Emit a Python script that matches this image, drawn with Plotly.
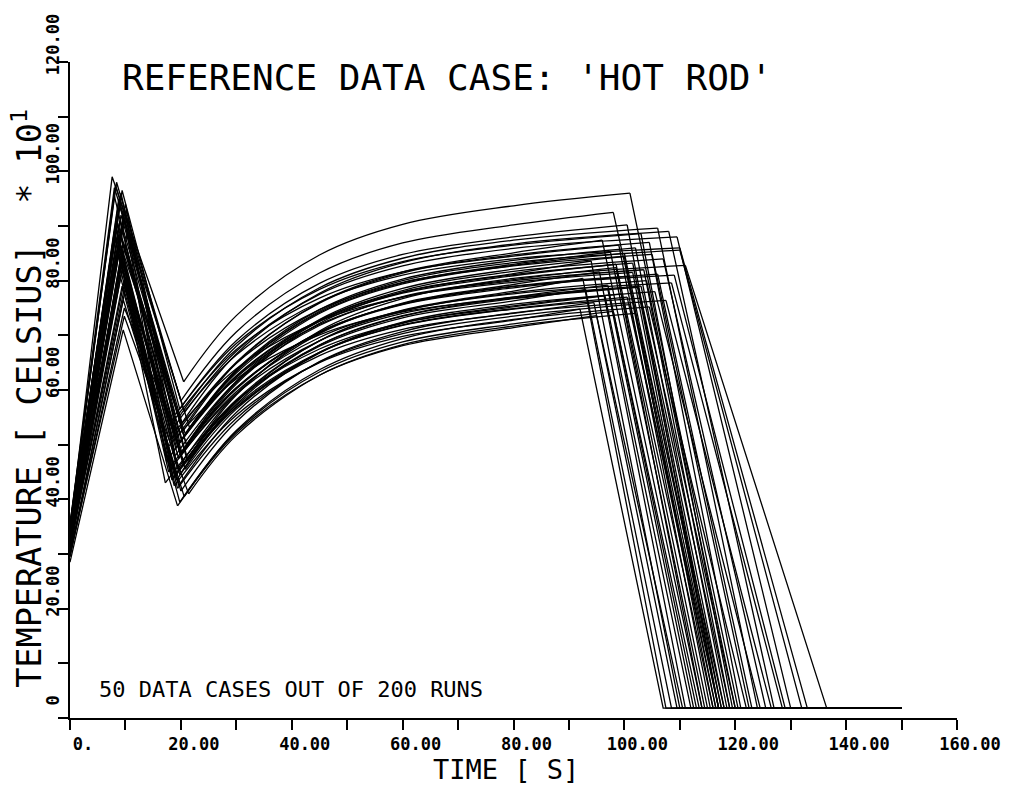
import plotly.graph_objects as go

# ---- data (temperature in units of 10 deg C, time in s) ----
START_TEMP = [34.5, 35.0, 33.5, 34.0, 33.0, 32.5, 35.5, 33.0, 34.0, 31.5,
              33.5, 32.0, 35.0, 34.5, 31.0, 33.0, 32.5, 34.0, 30.5, 33.5,
              35.0, 32.0, 31.5, 33.0, 34.5, 32.5, 31.0, 33.5, 32.0, 35.5,
              30.5, 33.0, 31.5, 34.0, 30.0, 32.5, 35.0, 29.5, 33.0, 31.0,
              30.0, 28.5, 35.5, 34.5, 33.5, 31.5, 34.0, 35.5, 29.5, 32.0]
PEAK_TIME = [7.6, 8.2, 9.4, 8.8, 9.0, 9.6, 9.2, 8.4, 10.0, 8.0,
             9.8, 8.6, 9.0, 8.0, 9.6, 9.4, 8.8, 10.2, 9.2, 8.4,
             9.8, 8.6, 9.0, 9.6, 8.2, 10.0, 9.4, 8.8, 9.2, 10.4,
             9.0, 8.4, 9.8, 8.6, 10.0, 9.2, 8.0, 9.6, 9.0, 9.4,
             9.8, 9.6, 8.0, 8.8, 9.2, 10.2, 8.6, 8.4, 9.8, 9.0]
PEAK_TEMP = [99.0, 97.5, 96.5, 95.0, 93.5, 92.0, 96.0, 90.5, 94.0, 89.0,
             92.5, 88.0, 91.0, 95.5, 87.0, 90.0, 86.0, 93.0, 84.5, 89.5,
             91.5, 85.0, 88.5, 83.0, 90.0, 86.5, 82.0, 87.5, 84.0, 89.0,
             81.0, 85.5, 80.0, 86.0, 78.5, 83.5, 88.0, 76.5, 82.5, 79.0,
             73.5, 71.0, 97.0, 94.5, 92.0, 80.5, 90.5, 98.0, 75.0, 86.0]
TROUGH_TIME = [20.5, 20.0, 19.8, 19.6, 20.2, 19.0, 18.6, 20.4, 19.4, 18.0,
               19.8, 20.8, 19.2, 18.4, 20.0, 21.0, 19.6, 18.8, 20.6, 19.0,
               17.4, 19.4, 20.2, 18.2, 19.8, 21.2, 17.8, 19.2, 20.4, 18.6,
               19.6, 20.8, 17.2, 19.0, 20.0, 18.4, 19.4, 20.6, 18.8, 19.8,
               21.4, 19.4, 21.6, 20.6, 21.0, 20.0, 21.2, 20.6, 19.0, 17.6]
TROUGH_TEMP = [61.5, 58.0, 56.5, 55.0, 54.0, 55.5, 53.0, 52.5, 51.5, 53.5,
               50.5, 52.0, 49.5, 51.0, 48.5, 50.0, 47.5, 49.0, 46.5, 48.0,
               47.0, 45.5, 48.5, 46.0, 44.5, 47.5, 45.0, 43.5, 46.5, 44.0,
               42.5, 45.5, 43.0, 44.5, 41.5, 43.5, 42.0, 40.5, 42.5, 39.5,
               41.0, 38.8, 53.0, 51.5, 50.0, 48.0, 47.0, 56.0, 52.5, 49.5]
RISE_30 = [73.6, 70.6, 69.0, 68.0, 66.6, 68.5, 67.1, 64.9, 65.1, 67.4,
           63.7, 63.5, 63.4, 64.9, 61.6, 61.4, 61.1, 62.6, 59.1, 61.5,
           62.3, 59.3, 60.2, 60.4, 57.8, 58.2, 59.7, 57.4, 57.9, 57.9,
           55.9, 56.5, 58.1, 57.2, 54.2, 56.8, 54.8, 52.6, 55.4, 52.4,
           51.7, 52.1, 63.1, 62.5, 60.4, 59.3, 56.9, 66.4, 63.9, 62.0]
RISE_45 = [84.7, 81.4, 79.5, 78.7, 77.7, 78.4, 77.5, 76.0, 75.9, 76.8,
           74.7, 74.4, 74.2, 74.7, 72.9, 72.6, 72.2, 72.8, 70.8, 71.8,
           72.0, 70.3, 70.6, 70.5, 69.0, 69.0, 69.6, 68.2, 68.2, 68.0,
           66.8, 66.9, 67.5, 66.9, 65.2, 66.3, 65.1, 63.7, 65.0, 63.3,
           62.7, 62.7, 74.0, 72.6, 70.6, 69.0, 66.8, 76.1, 72.6, 70.1]
RISE_60 = [90.3, 86.9, 84.8, 84.1, 83.3, 83.5, 82.7, 81.6, 81.4, 81.6,
           80.3, 80.0, 79.6, 79.7, 78.6, 78.2, 77.9, 77.9, 76.7, 77.1,
           77.0, 75.9, 75.8, 75.6, 74.6, 74.4, 74.5, 73.6, 73.5, 73.2,
           72.4, 72.2, 72.3, 71.8, 70.7, 71.1, 70.3, 69.4, 69.8, 68.8,
           68.3, 68.1, 79.4, 77.7, 75.7, 74.0, 71.9, 81.0, 77.0, 74.3]
RISE_80 = [93.7, 90.2, 88.0, 87.4, 86.7, 86.5, 85.9, 85.1, 84.7, 84.5,
           83.7, 83.3, 83.0, 82.7, 82.1, 81.7, 81.3, 81.1, 80.4, 80.2,
           80.0, 79.3, 79.0, 78.7, 78.1, 77.8, 77.6, 77.0, 76.7, 76.3,
           75.7, 75.4, 75.2, 74.8, 74.1, 74.0, 73.5, 72.9, 72.8, 72.1,
           71.7, 71.4, 82.8, 80.9, 78.9, 77.0, 74.9, 84.0, 79.7, 76.8]
PLATEAU_END_TIME = [101.0, 98.0, 100.5, 106.0, 108.0, 103.0, 109.5, 96.0, 104.5, 99.0,
                    102.0, 110.0, 97.5, 105.0, 100.0, 107.0, 94.0, 101.5, 111.0, 98.5,
                    103.5, 95.5, 106.0, 100.5, 92.5, 104.0, 108.5, 97.0, 102.5, 93.0,
                    105.5, 99.5, 96.5, 103.0, 107.5, 94.5, 101.0, 104.5, 92.0, 98.0,
                    102.0, 95.0, 100.0, 98.5, 109.0, 103.0, 100.5, 110.0, 101.5, 97.0]
PLATEAU_END_TEMP = [96.0, 92.5, 90.2, 89.6, 89.0, 88.6, 88.0, 87.4, 87.0, 86.5,
                    86.0, 85.6, 85.2, 84.8, 84.4, 84.0, 83.6, 83.2, 82.8, 82.4,
                    82.0, 81.6, 81.2, 80.8, 80.4, 80.0, 79.6, 79.2, 78.8, 78.4,
                    78.0, 77.6, 77.2, 76.8, 76.4, 76.0, 75.6, 75.2, 74.8, 74.4,
                    74.0, 73.6, 85.0, 83.0, 81.0, 79.0, 77.0, 86.0, 81.5, 78.5]
QUENCH_TIME = [120.5, 118.0, 117.0, 124.0, 127.0, 119.5, 130.0, 114.0, 121.0, 115.5,
               118.5, 132.0, 114.5, 122.5, 116.0, 125.5, 110.0, 117.5, 136.5, 114.0,
               119.0, 111.0, 123.0, 116.5, 107.5, 120.0, 128.5, 113.0, 118.0, 108.5,
               124.5, 115.0, 112.0, 119.0, 126.5, 109.5, 116.5, 122.0, 107.0, 113.5,
               117.0, 110.5, 117.5, 116.0, 129.0, 120.0, 117.0, 133.0, 117.0, 112.5]
FLOOR_TEMP = 1.8
END_TIME = 150.0

X_TICKS = [0, 10, 20, 30, 40, 50, 60, 70, 80, 90, 100, 110, 120, 130, 140, 150, 160]
X_TICK_TEXT = ["0.", "", "20.00", "", "40.00", "", "60.00", "", "80.00", "",
               "100.00", "", "120.00", "", "140.00", "", "160.00"]
Y_TICKS = [0, 10, 20, 30, 40, 50, 60, 70, 80, 90, 100, 110, 120]
Y_TICK_TEXT = ["0", "", "20.00", "", "40.00", "", "60.00", "", "80.00", "",
               "100.00", "", "120.00"]
RISE_TIMES = [30, 45, 60, 80]

TITLE = "REFERENCE DATA CASE: 'HOT ROD'"
X_TITLE = "TIME [ S]"
Y_TITLE = "TEMPERATURE [ CELSIUS]  * 10<sup>1</sup>"
NOTE = "50 DATA CASES OUT OF 200 RUNS"

MONO = "DejaVu Sans Mono"
LINE = dict(color="black", width=1.3)

fig = go.Figure()
for i in range(len(START_TEMP)):
    # heating, first cooling, and quench segments
    fig.add_trace(go.Scatter(
        x=[0, PEAK_TIME[i], TROUGH_TIME[i], None, PLATEAU_END_TIME[i], QUENCH_TIME[i], END_TIME],
        y=[START_TEMP[i], PEAK_TEMP[i], TROUGH_TEMP[i], None, PLATEAU_END_TEMP[i], FLOOR_TEMP, FLOOR_TEMP],
        mode="lines", line=LINE, hoverinfo="skip", showlegend=False))
    # reheating curve
    fig.add_trace(go.Scatter(
        x=[TROUGH_TIME[i]] + RISE_TIMES + [PLATEAU_END_TIME[i]],
        y=[TROUGH_TEMP[i], RISE_30[i], RISE_45[i], RISE_60[i], RISE_80[i], PLATEAU_END_TEMP[i]],
        mode="lines", line=dict(color="black", width=1.3, shape="spline", smoothing=1.0),
        hoverinfo="skip", showlegend=False))

axis_common = dict(showgrid=False, zeroline=False, showline=True, linecolor="black",
                   linewidth=2, ticks="outside", ticklen=10, tickwidth=2, tickcolor="black")

fig.update_xaxes(range=[0, 160], tickvals=X_TICKS, ticktext=X_TICK_TEXT,
                 tickfont=dict(family=MONO, size=17, color="black", weight="bold"),
                 ticklabelshift=13, ticklabelstandoff=0, **axis_common)
fig.update_yaxes(range=[0, 120], tickvals=Y_TICKS, ticktext=Y_TICK_TEXT, tickangle=-90,
                 tickfont=dict(family=MONO, size=17, color="black", weight="bold"),
                 ticklabelshift=-15, ticklabelstandoff=-8, automargin=False, **axis_common)

fig.add_annotation(text=TITLE, xref="paper", yref="paper", x=0.0564, y=0.977,
                   xanchor="left", yanchor="middle", showarrow=False,
                   font=dict(family=MONO, size=36, color="black"))
fig.add_annotation(text=Y_TITLE, xref="paper", yref="paper", x=-0.0485, y=0.488,
                   xanchor="center", yanchor="middle", textangle=-90, showarrow=False,
                   font=dict(family=MONO, size=33.5, color="black"))
fig.add_annotation(text=X_TITLE, xref="paper", yref="paper", x=0.4915, y=-0.0785,
                   xanchor="center", yanchor="middle", showarrow=False,
                   font=dict(family=MONO, size=27, color="black"))
fig.add_annotation(text=NOTE, xref="paper", yref="paper", x=0.0304, y=0.0442,
                   xanchor="left", yanchor="middle", showarrow=False,
                   font=dict(family=MONO, size=22, color="black"))

fig.update_layout(width=1025, height=785, margin=dict(l=70, r=68, t=62, b=67),
                  paper_bgcolor="white", plot_bgcolor="white", showlegend=False)

fig.write_html("out.html")
